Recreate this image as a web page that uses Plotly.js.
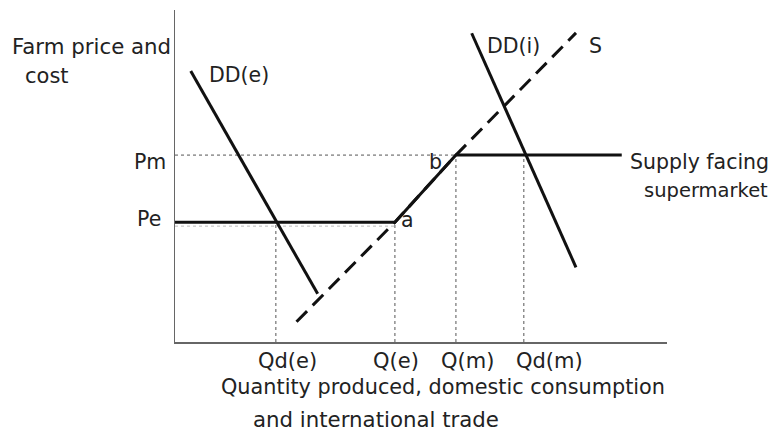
<!DOCTYPE html>
<html>
<head>
<meta charset="utf-8">
<script src="https://cdn.plot.ly/plotly-3.0.1.min.js"></script>
<style>html,body{margin:0;padding:0;background:#fff;}#chart{width:775px;height:432px;}</style>
</head>
<body>
<div id="chart"></div>
<script>
// Quantities (x) and prices (y) in abstract diagram units
var quantityLabels = ["Qd(e)", "Q(e)", "Q(m)", "Qd(m)"];
var quantityValues = [2.05, 4.47, 5.71, 7.09];
var priceLabels = ["Pm", "Pe"];
var priceValues = [5.63, 3.61];

var ddeX = [0.32, 2.90];
var ddeY = [8.16, 1.45];
var supplyX = [2.47, 4.47, 5.71, 8.15];
var supplyY = [0.61, 3.61, 5.63, 9.31];
var ddiX = [6.03, 8.15];
var ddiY = [9.30, 2.25];
var supermarketX = [0, 4.47, 5.71, 9.08];
var supermarketY = [3.61, 3.61, 5.63, 5.63];

var Pm = priceValues[0], Pe = priceValues[1];
var Qde = quantityValues[0], Qe = quantityValues[1], Qm = quantityValues[2], Qdm = quantityValues[3];

// layout geometry
var L = 175, T = 10, W = 492, H = 332;
var XR = [0, 10], YR = [0, 10];
function PX(px) { return (px - L) / W; }
function PY(py) { return (T + H - py) / H; }

var black = '#111111';
var dotColor = '#555555';
var traces = [];
function line(x, y, opts) {
  traces.push({x: x, y: y, type: 'scatter', mode: 'lines', hoverinfo: 'skip', showlegend: false,
    line: Object.assign({color: black, width: 3}, opts)});
}
// dotted guide lines
line([0, Qm], [Pm, Pm], {color: dotColor, width: 1, dash: '3px,3px'});
line([0, Qe], [Pe - 0.12, Pe - 0.12], {color: '#bbbbbb', width: 1, dash: '3px,3px'});
line([Qde, Qde], [0, Pe], {color: dotColor, width: 1, dash: '3px,3px'});
line([Qe, Qe], [0, Pe], {color: dotColor, width: 1, dash: '3px,3px'});
line([Qm, Qm], [0, Pm], {color: dotColor, width: 1, dash: '3px,3px'});
line([Qdm, Qdm], [0, Pm], {color: dotColor, width: 1, dash: '3px,3px'});
// supply S dashed
line(supplyX, supplyY, {width: 3, dash: '15px,8px'});
// supply facing supermarket (solid)
line(supermarketX, supermarketY, {width: 3});
// demand curves
line(ddeX, ddeY, {width: 3});
line(ddiX, ddiY, {width: 3});

var F = 'DejaVu Sans, Arial, sans-serif';
var annotations = [];
function txt(text, px, py, anchor, size) {
  annotations.push({text: text, x: PX(px), y: PY(py), xref: 'paper', yref: 'paper', showarrow: false,
    borderpad: 0, xanchor: anchor || 'left', yanchor: 'middle',
    font: {family: F, size: size || 20.5, color: '#222222'}});
}
txt("Farm price and", 11, 46.5, 'left', 21.3);
txt("cost", 24, 76, 'left', 21);
txt(priceLabels[0], 167, 161.5, 'right');
txt(priceLabels[1], 162, 218.5, 'right');
txt("DD(e)", 208, 75, 'left');
txt("DD(i)", 486, 45.5, 'left');
txt("S", 588, 45.5, 'left');
txt("b", 428, 162, 'left');
txt("a", 400, 220, 'left');
txt("Supply facing", 770, 161.5, 'right', 20.5);
txt("supermarket", 769, 190, 'right', 19.5);
var qLabelLeft = [257, 372, 440, 515];
for (var i = 0; i < quantityLabels.length; i++) txt(quantityLabels[i], qLabelLeft[i], 361, 'left', 21);
txt("Quantity produced, domestic consumption", 220, 387, 'left', 20.8);
txt("and international trade", 252, 419, 'left', 21.3);

var layout = {
  width: 775, height: 432,
  margin: {l: L, r: 775 - L - W, t: T, b: 432 - T - H, pad: 0},
  paper_bgcolor: '#ffffff', plot_bgcolor: '#ffffff',
  showlegend: false,
  xaxis: {range: XR, showgrid: false, zeroline: false, showticklabels: false, ticks: '',
    showline: true, linecolor: '#666666', linewidth: 1.5, fixedrange: true},
  yaxis: {range: YR, showgrid: false, zeroline: false, showticklabels: false, ticks: '',
    showline: true, linecolor: '#666666', linewidth: 1.5, fixedrange: true},
  annotations: annotations
};
Plotly.newPlot('chart', traces, layout, {displayModeBar: false, staticPlot: true});
</script>
</body>
</html>
